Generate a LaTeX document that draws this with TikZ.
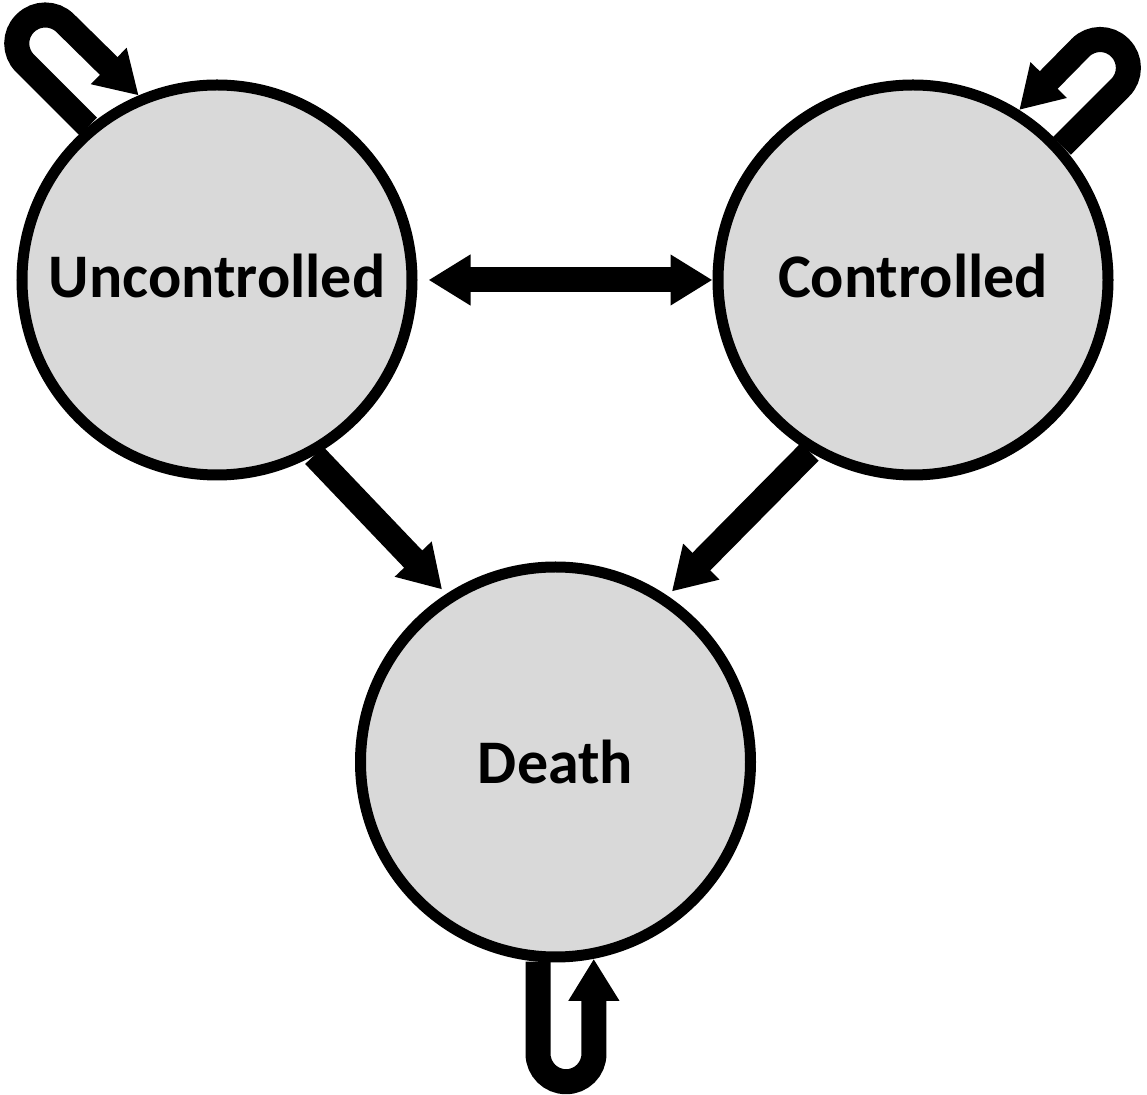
\documentclass[tikz,border=0pt]{standalone}
\usepackage{fontspec}
\setmainfont{Carlito}
\usetikzlibrary{arrows.meta,calc}
\definecolor{stategray}{RGB}{217,217,217}
\tikzset{
  fattip/.tip={Triangle[length=21pt,width=24pt]},
  statenode/.style={circle,draw=black,fill=stategray,line width=5.5pt,
    minimum size=195pt,inner sep=0pt,
    font=\fontsize{31}{37}\selectfont\bfseries},
  flowarrow/.style={-fattip,line width=12.5pt},
  selfloop/.style={flowarrow,rounded corners=14pt}
}

\begin{document}
\begin{tikzpicture}[x=0.5pt,y=-0.5pt]
  \useasboundingbox (0,0) rectangle (1147,1095);

  \node[statenode] (unc)   at (217,280) {\raisebox{4.5pt}{Uncontrolled}};
  \node[statenode] (con)   at (913,280) {\raisebox{4.5pt}{Controlled}};
  \node[statenode] (death) at (555.5,762) {Death};

  % transitions between states
  \draw[flowarrow,fattip-fattip,shorten <=5.5pt] (unc.east) -- (con.west);
  \draw[flowarrow,shorten >=3pt] (unc.-61) -- (death.123);
  \draw[flowarrow,shorten >=3pt] (con.-121) -- (death.56);

  % staying in the same state
  \draw[selfloop] (unc.130) -- ++(-83,-83) -- ++(40,-40) -- (unc.113);
  \draw[selfloop] (con.42) -- ++(78,-78) -- ++(-40,-40) -- (con.58);
  \draw[selfloop] (death.265) -- ++(0,120) -- ++(56,0) -- (death.281);
\end{tikzpicture}
\end{document}
